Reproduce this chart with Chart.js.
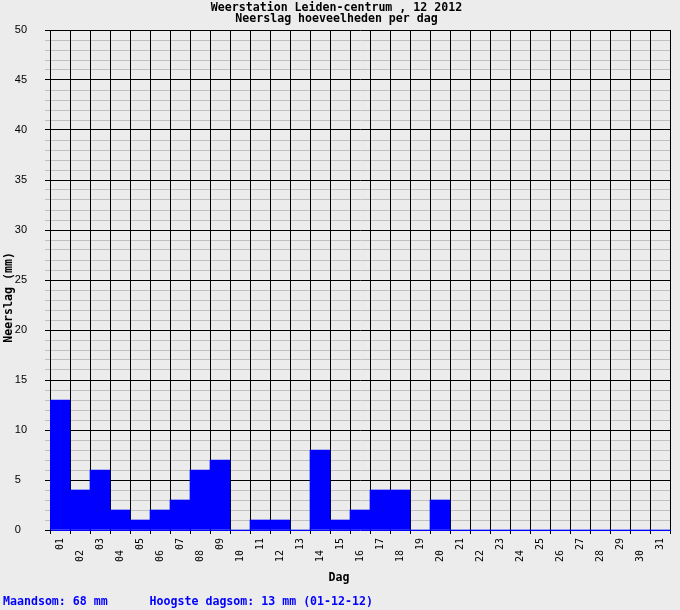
<!DOCTYPE html>
<html><head><meta charset="utf-8">
<script src="https://cdn.jsdelivr.net/npm/chart.js@4"></script>
<style>html,body{margin:0;padding:0;background:#ececec;} canvas{display:block;}</style>
</head><body>
<canvas id="c" width="680" height="610"></canvas>
<script>
const days = ['01','02','03','04','05','06','07','08','09','10','11','12','13','14','15','16','17','18','19','20','21','22','23','24','25','26','27','28','29','30','31'];
const rainfall = [13,4,6,2,1,2,3,6,7,0,1,1,0,8,1,2,4,4,0,3,0,0,0,0,0,0,0,0,0,0,0];
const titleLines = ['Weerstation Leiden-centrum , 12 2012', 'Neerslag hoeveelheden per dag'];
const footerText = 'Maandsom: 68 mm      Hoogste dagsom: 13 mm (01-12-12)';
const yTitle = 'Neerslag (mm)';
const xTitle = 'Dag';
const yMin = 0, yMax = 50, yStep = 1, yLabelEvery = 5;

const mono = 'DejaVu Sans Mono';
new Chart(document.getElementById('c'), {
  type: 'bar',
  data: {
    labels: days,
    datasets: [{
      data: rainfall,
      backgroundColor: '#0000ff',
      borderWidth: 0,
      barPercentage: 1,
      categoryPercentage: 1
    }]
  },
  options: {
    responsive: false,
    animation: false,
    layout: { padding: { left: 3, right: 10, top: 0, bottom: 0 } },
    plugins: {
      legend: { display: false },
      tooltip: { enabled: false },
      title: {
        display: true,
        text: titleLines,
        color: '#000',
        font: { family: mono, size: 11.6, weight: 'bold', lineHeight: '11px' },
        padding: { top: 2, bottom: 6 }
      },
      subtitle: {
        display: true,
        position: 'bottom',
        align: 'start',
        text: footerText,
        color: '#0000ff',
        font: { family: mono, size: 11.6, weight: 'bold', lineHeight: '12px' },
        padding: { top: 0, bottom: 2 }
      }
    },
    scales: {
      x: {
        type: 'category',
        offset: true,
        grid: { offset: true, color: '#000', tickColor: '#000', tickLength: 4, lineWidth: 1, z: -1 },
        border: { display: true, color: '#0000ff', width: 1 },
        ticks: {
          autoSkip: false, minRotation: 90, maxRotation: 90, padding: 4,
          color: '#000',
          font: { family: mono, size: 10 },
          callback: function (v, i) { const l = this.getLabelForValue(v); return (i % 2 === 1) ? l + '  ' : l; }
        },
        title: {
          display: true, text: xTitle + '      ', color: '#000',
          font: { family: mono, size: 11.6, weight: 'bold', lineHeight: '12px' },
          padding: { top: 0, bottom: 12.5 }
        },
        afterFit: (s) => { s.height = 66; }
      },
      y: {
        min: yMin, max: yMax,
        grid: {
          z: -2,
          tickLength: 5,
          color: (ctx) => ctx.tick.value === 0 ? 'rgba(0,0,0,0)' : (ctx.tick.value % yLabelEvery === 0 ? '#000' : '#c0c0c0'),
          tickColor: (ctx) => ctx.tick.value % yLabelEvery === 0 ? '#000' : '#c0c0c0'
        },
        border: { display: true, color: '#000', width: 1 },
        ticks: {
          stepSize: yStep, autoSkip: false, padding: 18, color: '#000',
          font: { family: 'Liberation Sans', size: 11 },
          callback: (v) => v % yLabelEvery === 0 ? (v < 10 ? v + '  ' : String(v)) : ''
        },
        title: {
          display: true, text: yTitle + '     ', color: '#000',
          font: { family: mono, size: 11.6, weight: 'bold', lineHeight: '12px' },
          padding: { top: 0, bottom: 0 }
        },
        afterFit: (s) => { s.width = 47; }
      }
    }
  }
});
</script>
</body></html>
